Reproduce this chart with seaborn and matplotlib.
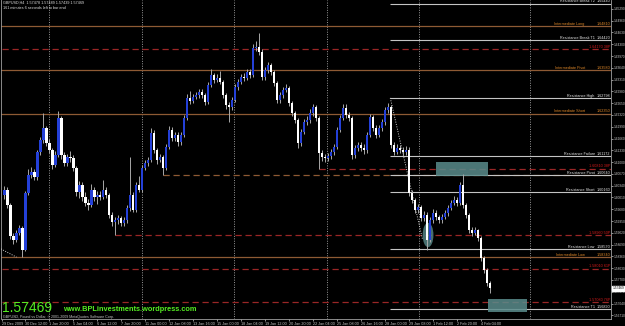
import matplotlib
matplotlib.use("Agg")
import matplotlib.pyplot as plt
import matplotlib.transforms as mtransforms
from matplotlib.patches import Rectangle, Ellipse
import numpy as np
import seaborn as sns

# ---------------- data ----------------
first_open = 1.6008
closes = [1.6022, 1.5980, 1.5893, 1.5882, 1.5902, 1.5916, 1.5854, 1.6014, 1.6064, 1.6072,
          1.6058, 1.6128, 1.6162, 1.6196, 1.6154, 1.6134, 1.6092, 1.6120, 1.6224, 1.6120,
          1.6098, 1.6114, 1.6112, 1.6084, 1.6016, 1.6036, 1.6002, 1.5986, 1.5980, 1.6022,
          1.6002, 1.6008, 1.6002, 1.6022, 1.6008, 1.5952, 1.5932, 1.5938, 1.5944, 1.5930,
          1.5938, 1.5972, 1.6008, 1.5966, 1.6036, 1.6022, 1.6084, 1.6098, 1.6106, 1.6182,
          1.6134, 1.6106, 1.6114, 1.6084, 1.6142, 1.6190, 1.6168, 1.6176, 1.6156, 1.6176,
          1.6224, 1.6280, 1.6271, 1.6282, 1.6288, 1.6296, 1.6288, 1.6268, 1.6316, 1.6344,
          1.6330, 1.6336, 1.6324, 1.6288, 1.6260, 1.6254, 1.6274, 1.6310, 1.6324, 1.6338,
          1.6336, 1.6352, 1.6344, 1.6420, 1.6422, 1.6408, 1.6338, 1.6358, 1.6372, 1.6352,
          1.6322, 1.6274, 1.6288, 1.6302, 1.6308, 1.6266, 1.6238, 1.6218, 1.6154, 1.6184,
          1.6212, 1.6218, 1.6238, 1.6254, 1.6224, 1.6126, 1.6114, 1.6112, 1.6117, 1.6128,
          1.6142, 1.6190, 1.6224, 1.6252, 1.6232, 1.6224, 1.6120, 1.6140, 1.6148, 1.6140,
          1.6134, 1.6176, 1.6226, 1.6196, 1.6176, 1.6196, 1.6212, 1.6246, 1.6254, 1.6148,
          1.6128, 1.6140, 1.6134, 1.6128, 1.6134, 1.6014, 1.5994, 1.5966, 1.5974, 1.5944,
          1.5952, 1.5882, 1.5938, 1.5958, 1.5946, 1.5938, 1.5946, 1.5958, 1.5972, 1.5986,
          1.5994, 1.5986, 1.6036, 1.5980, 1.5952, 1.5910, 1.5902, 1.5910, 1.5888, 1.5832,
          1.5798, 1.5762, 1.5747]
highs = [1.6034, 1.6030, 1.5986, 1.5902, 1.5910, 1.5924, 1.5922, 1.6020, 1.6080, 1.6086,
         1.6080, 1.6134, 1.6170, 1.6238, 1.6200, 1.6166, 1.6140, 1.6130, 1.6244, 1.6230,
         1.6128, 1.6124, 1.6130, 1.6120, 1.6090, 1.6046, 1.6044, 1.6016, 1.5996, 1.6040,
         1.6030, 1.6018, 1.6020, 1.6050, 1.6030, 1.6014, 1.5960, 1.5946, 1.5952, 1.5950,
         1.5946, 1.5980, 1.6114, 1.6016, 1.6044, 1.6060, 1.6092, 1.6106, 1.6114, 1.6196,
         1.6190, 1.6140, 1.6124, 1.6120, 1.6150, 1.6200, 1.6198, 1.6184, 1.6184, 1.6184,
         1.6232, 1.6290, 1.6300, 1.6290, 1.6296, 1.6304, 1.6304, 1.6294, 1.6324, 1.6360,
         1.6350, 1.6346, 1.6354, 1.6330, 1.6294, 1.6268, 1.6282, 1.6318, 1.6332, 1.6346,
         1.6350, 1.6362, 1.6360, 1.6430, 1.6440, 1.6462, 1.6416, 1.6366, 1.6380, 1.6378,
         1.6358, 1.6328, 1.6296, 1.6310, 1.6318, 1.6314, 1.6272, 1.6244, 1.6224, 1.6192,
         1.6220, 1.6228, 1.6250, 1.6262, 1.6260, 1.6230, 1.6134, 1.6124, 1.6126, 1.6136,
         1.6150, 1.6198, 1.6232, 1.6262, 1.6262, 1.6240, 1.6230, 1.6148, 1.6156, 1.6156,
         1.6150, 1.6184, 1.6236, 1.6232, 1.6204, 1.6204, 1.6220, 1.6254, 1.6266, 1.6260,
         1.6156, 1.6150, 1.6148, 1.6142, 1.6144, 1.6142, 1.6022, 1.6000, 1.5984, 1.5980,
         1.5962, 1.5960, 1.5946, 1.5968, 1.5966, 1.5952, 1.5954, 1.5966, 1.5980, 1.5994,
         1.6004, 1.6002, 1.6044, 1.6068, 1.5986, 1.5958, 1.5918, 1.5918, 1.5914, 1.5894,
         1.5838, 1.5804, 1.5768]
lows = [1.5998, 1.5972, 1.5884, 1.5870, 1.5876, 1.5896, 1.5834, 1.5850, 1.6008, 1.6056,
        1.6050, 1.6050, 1.6120, 1.6154, 1.6146, 1.6126, 1.6080, 1.6086, 1.6114, 1.6110,
        1.6088, 1.6090, 1.6100, 1.6076, 1.6004, 1.6000, 1.5990, 1.5976, 1.5966, 1.5974,
        1.5990, 1.5984, 1.5994, 1.5996, 1.6000, 1.5944, 1.5920, 1.5896, 1.5926, 1.5922,
        1.5920, 1.5930, 1.5964, 1.5960, 1.5960, 1.6016, 1.6016, 1.6078, 1.6090, 1.6100,
        1.6126, 1.6096, 1.6100, 1.6064, 1.6078, 1.6136, 1.6160, 1.6160, 1.6146, 1.6148,
        1.6170, 1.6218, 1.6264, 1.6266, 1.6276, 1.6280, 1.6280, 1.6260, 1.6262, 1.6310,
        1.6322, 1.6324, 1.6318, 1.6280, 1.6250, 1.6212, 1.6246, 1.6268, 1.6302, 1.6318,
        1.6328, 1.6330, 1.6336, 1.6338, 1.6410, 1.6400, 1.6330, 1.6330, 1.6350, 1.6344,
        1.6314, 1.6266, 1.6266, 1.6280, 1.6296, 1.6258, 1.6230, 1.6210, 1.6140, 1.6146,
        1.6178, 1.6204, 1.6210, 1.6230, 1.6216, 1.6081, 1.6104, 1.6100, 1.6104, 1.6108,
        1.6120, 1.6136, 1.6184, 1.6218, 1.6224, 1.6216, 1.6110, 1.6112, 1.6132, 1.6130,
        1.6124, 1.6126, 1.6170, 1.6188, 1.6168, 1.6170, 1.6188, 1.6204, 1.6238, 1.6140,
        1.6120, 1.6122, 1.6126, 1.6120, 1.6120, 1.6006, 1.5986, 1.5958, 1.5958, 1.5936,
        1.5936, 1.5854, 1.5876, 1.5930, 1.5938, 1.5930, 1.5930, 1.5940, 1.5950, 1.5966,
        1.5980, 1.5978, 1.5980, 1.5972, 1.5944, 1.5902, 1.5894, 1.5896, 1.5880, 1.5824,
        1.5790, 1.5754, 1.5734]
opens = [first_open] + closes[:-1]

time_labels = ["29 Dec 2009", "30 Dec 12:00", "1 Jan 20:00", "5 Jan 04:00", "6 Jan 12:00",
               "7 Jan 20:00", "11 Jan 00:00", "12 Jan 08:00", "13 Jan 16:00", "15 Jan 00:00",
               "18 Jan 04:00", "19 Jan 12:00", "20 Jan 20:00", "22 Jan 04:00", "25 Jan 08:00",
               "26 Jan 16:00", "28 Jan 00:00", "29 Jan 08:00", "1 Feb 12:00", "2 Feb 20:00",
               "4 Feb 04:00"]
price_ticks = [1.65290, 1.64960, 1.64630, 1.64300, 1.63970, 1.63640, 1.63310, 1.62980,
               1.62650, 1.62320, 1.61990, 1.61660, 1.61330, 1.61000, 1.60670, 1.60340,
               1.60010, 1.59680, 1.59350, 1.59020, 1.58690, 1.58360, 1.58030, 1.57700,
               1.57370, 1.57040, 1.56710]

res_names = ["Resistance Break T2", "Resistance Break T1", "Resistance High",
             "Resistance Failure", "Resistance Pivot", "Resistance Short",
             "Resistance Low", "Resistance T1"]
res_values = [1.65440, 1.64420, 1.62798, 1.61172, 1.60640, 1.60160, 1.58570, 1.56890]
inter_names = ["Intermediate Long", "Intermediate Pivot", "Intermediate Short",
               "Intermediate Low"]
inter_values = [1.64810, 1.63580, 1.62350, 1.58340]
fib_values = [1.64170, 1.60810, 1.58960, 1.58010, 1.57080]
fib_tags = ["38P", "38P", "50P", "61P", "76P"]
fib_start = [-1, 105, 37, -1, -1]
pivot_dash_start = 53
last_price = 1.57469

# ---------------- style ----------------
sns.set_theme(style="dark", rc={"axes.facecolor": "black", "figure.facecolor": "black",
                                "axes.edgecolor": "#a0a0a0", "axes.grid": False})
plt.rcParams["font.family"] = ["Liberation Sans", "DejaVu Sans"]

W, H = 625, 326
FS = 2.7
fig = plt.figure(figsize=(W / 100, H / 100), dpi=100)
ax = fig.add_axes([1.5 / W, 1 - 319 / H, (611 - 1.5) / W, 319 / H])
ax.set_facecolor("black")
ax.set_xlim((1.5 - 4) / 3, (611 - 4) / 3)
ax.set_ylim(1.56608, 1.6554)

x = np.arange(len(closes))
o = np.array(opens); c = np.array(closes)
up = c >= o
body_col = np.where(up, "#2440d8", "#ffffff")
bottom = np.minimum(o, c)
height = np.maximum(np.abs(c - o), 0.00018)

# grid (dotted verticals)
for gx in [15, 46, 76.7, 107.7, 138.3, 175.3]:
    ax.axvline(gx, color="#9a9a9a", lw=0.7, ls=(0, (1, 1.5)), zorder=1)

blend = mtransforms.blended_transform_factory(ax.transAxes, ax.transData)

# intermediate (orange) lines
for name, v in zip(inter_names, inter_values):
    ax.axhline(v, color="#8e5a34", lw=0.9, zorder=2)
    ax.text(0.957, v + 0.00012, name, color="#e08828", fontsize=FS, ha="right",
            va="bottom", transform=blend, zorder=6)
    ax.text(0.9985, v + 0.00012, f"{v:.5f}", color="#e08828", fontsize=FS, ha="right",
            va="bottom", transform=blend, zorder=6)

# fib (red dashed) lines
for v, t, s in zip(fib_values, fib_tags, fib_start):
    ax.hlines(v, s, 210, color="#9a2626", lw=0.9, linestyles=(0, (5, 3)), zorder=2)
    ax.text(0.9985, v + 0.00012, f"{v:.5f} {t}", color="#d01a1a", fontsize=FS,
            ha="right", va="bottom", transform=blend, zorder=6)

# brown dashed line at pivot
ax.hlines(res_values[4], pivot_dash_start, 210, color="#8e5a34", lw=0.9,
          linestyles=(0, (5, 3)), zorder=2)

# resistance (gray) lines
for name, v in zip(res_names, res_values):
    ax.hlines(v, 128.7, 210, color="#c4c4c4", lw=0.8, zorder=2)
    ax.text(0.9735, v + 0.00010, name, color="#e8e8e8", fontsize=FS, ha="right",
            va="bottom", transform=blend, zorder=6)
    ax.text(0.9985, v + 0.00010, f"{v:.5f}", color="#e8e8e8", fontsize=FS, ha="right",
            va="bottom", transform=blend, zorder=6)

# dotted diagonal lines
ax.plot([128.7, 139.5], [res_values[2], 1.5882], color="#d0d0d0", lw=0.7,
        ls=(0, (1, 1.5)), zorder=3)
ax.plot([-1.2, 4], [res_values[6], inter_values[3]], color="#d0d0d0", lw=0.7,
        ls=(0, (1, 1.5)), zorder=3)

# zones
ax.add_patch(Rectangle((144, 1.6061), 17.3, 0.0040, facecolor="#5a8c8c", alpha=0.85,
                       edgecolor="none", zorder=4))
ax.add_patch(Rectangle((161.3, 1.5680), 13.0, 0.0037, facecolor="#5a8c8c", alpha=0.85,
                       edgecolor="none", zorder=4))
ax.add_patch(Ellipse((141.3, 1.5896), 3.6, 0.0068, facecolor="#5a8c8c", alpha=0.8,
                     edgecolor="none", zorder=4))

# candles
ax.vlines(x, lows, highs, color="#a8a8a8", lw=0.7, zorder=5)
ax.bar(x, height, bottom=bottom, width=0.72, color=body_col, linewidth=0, zorder=5)

# axes
ax.yaxis.tick_right()
ax.set_yticks(price_ticks)
ax.set_yticklabels([f"{t:.5f}" for t in price_ticks])
ax.tick_params(axis="y", labelsize=2.3, colors="#c8c8c8", length=1.2, width=0.5, pad=0.5,
               right=True, left=False)
ax.set_xticks(np.arange(len(time_labels)) * 8 - 1)
ax.set_xticklabels(time_labels)
ax.tick_params(axis="x", labelsize=FS, colors="#c8c8c8", length=1.5, width=0.5, pad=0.8,
               bottom=True)
for lab in ax.get_xticklabels():
    lab.set_ha("left")
for s in ["left", "right", "bottom"]:
    ax.spines[s].set_color("#a0a0a0")
    ax.spines[s].set_linewidth(0.6)
ax.spines["top"].set_visible(False)

# current price label
ax.text(1.0022, last_price, f"{last_price:.5f}", transform=blend, fontsize=2.3,
        color="black", ha="left", va="center",
        bbox=dict(boxstyle="square,pad=0.12", facecolor="white", edgecolor="white"),
        zorder=7, clip_on=False)

# header and footer texts
ax.text(0.003, 0.997, "GBPUSD,H4  1.57478 1.57489 1.57439 1.57469", color="#e0e0e0",
        fontsize=FS, ha="left", va="top", transform=ax.transAxes, zorder=7)
ax.text(0.003, 0.982, "161 minutes 6 seconds left to bar end", color="#e0e0e0",
        fontsize=FS, ha="left", va="top", transform=ax.transAxes, zorder=7)
ax.text(0.001, 0.012, f"{last_price:.5f}", color="#55ee22", fontsize=10, ha="left",
        va="bottom", transform=ax.transAxes, zorder=7)
ax.text(0.101, 0.02, "www.BPLinvestments.wordpress.com", color="#55ee22", fontsize=5.3,
        fontweight="bold", ha="left", va="bottom", transform=ax.transAxes, zorder=7)
ax.text(0.002, 0.001, "GBPUSD, Pound vs Dollar, © 2001-2009 MetaQuotes Software Corp.",
        color="#c8c8c8", fontsize=2.6, ha="left", va="bottom", transform=ax.transAxes,
        zorder=7)

fig.savefig("out.png", dpi=100, facecolor="black")
